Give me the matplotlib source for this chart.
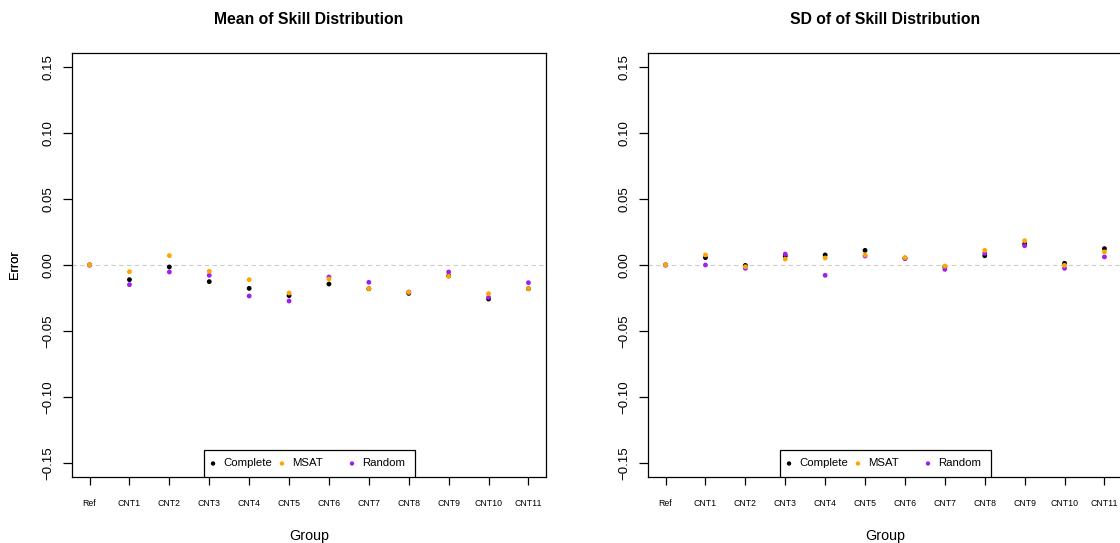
import matplotlib
matplotlib.use('Agg')
import matplotlib.pyplot as plt
from matplotlib.patches import Rectangle

plt.rcParams['font.family'] = ['Liberation Sans', 'DejaVu Sans']

groups = ["Ref", "CNT1", "CNT2", "CNT3", "CNT4", "CNT5", "CNT6",
          "CNT7", "CNT8", "CNT9", "CNT10", "CNT11"]
series_names = ["Complete", "MSAT", "Random"]
series_colors = {"Complete": "black", "MSAT": "#FFA500", "Random": "#A020F0"}

# mean of skill distribution errors
mean_complete = [0.0, -0.0111, -0.0015, -0.0126, -0.0177, -0.0232, -0.0144,
                 -0.0180, -0.0215, -0.0082, -0.0258, -0.0180]
mean_msat = [0.0, -0.0051, 0.0071, -0.0048, -0.0111, -0.0212, -0.0106,
             -0.0179, -0.0207, -0.0086, -0.0217, -0.0179]
mean_random = [0.0, -0.0149, -0.0053, -0.0078, -0.0235, -0.0273, -0.0091,
               -0.0131, -0.0205, -0.0053, -0.0245, -0.0134]

# sd of skill distribution errors
sd_complete = [0.0, 0.0056, -0.0003, 0.0068, 0.0076, 0.0111, 0.0052,
               -0.0013, 0.0070, 0.0160, 0.0013, 0.0124]
sd_msat = [0.0, 0.0076, -0.0013, 0.0045, 0.0053, 0.0076, 0.0056,
           -0.0008, 0.0111, 0.0184, -0.0003, 0.0099]
sd_random = [0.0, 0.0, -0.0025, 0.0083, -0.0078, 0.0068, 0.0048,
             -0.0033, 0.0088, 0.0146, -0.0025, 0.0061]

panels = [
    ("Mean of Skill Distribution", {"Complete": mean_complete, "MSAT": mean_msat, "Random": mean_random}),
    ("SD of of Skill Distribution", {"Complete": sd_complete, "MSAT": sd_msat, "Random": sd_random}),
]

W, H = 1120, 543
fig = plt.figure(figsize=(W / 100, H / 100), dpi=100)
fig.patch.set_facecolor('white')

ax_left_px = [72, 648]
box_w, box_top, box_bot = 474, 53, 477
yticks = [-0.15, -0.10, -0.05, 0.0, 0.05, 0.10, 0.15]
x = list(range(1, len(groups) + 1))

for (title, data), lpx in zip(panels, ax_left_px):
    ax = fig.add_axes([lpx / W, 1 - box_bot / H, box_w / W, (box_bot - box_top) / H])
    ax.set_xlim(0.56, 12.44)
    ax.set_ylim(-0.1606, 0.1606)

    ax.axhline(0, color='#cccccc', lw=0.8, dashes=(4, 3), zorder=1)

    # draw order: Complete, Random, MSAT (orange ends up on top)
    for name in ["Complete", "Random", "MSAT"]:
        ax.scatter(x, data[name], s=12, color=series_colors[name],
                   edgecolors='none', zorder=3)

    for sp in ax.spines.values():
        sp.set_linewidth(0.9)
        sp.set_color('black')

    ax.set_xticks(x)
    ax.set_xticklabels(groups, fontsize=6.3)
    ax.set_yticks(yticks)
    ax.set_yticklabels(['\u22120.15', '\u22120.10', '\u22120.05', '0.00', '0.05', '0.10', '0.15'],
                       fontsize=9.5, rotation=90, va='center')
    ax.tick_params(axis='x', length=6, width=0.9, pad=10)
    ax.tick_params(axis='y', length=6.5, width=0.9, pad=6)

    ax.text(0.5, 1 + (box_top - 19) / (box_bot - box_top), title, transform=ax.transAxes,
            ha='center', va='center', fontsize=11.3, fontweight='bold')
    ax.text((15 - lpx) / box_w, 0.5, "Error", transform=ax.transAxes,
            ha='center', va='center', rotation=90, fontsize=9.3)
    ax.text(0.5, (box_bot - 536) / (box_bot - box_top), "Group", transform=ax.transAxes,
            ha='center', va='center', fontsize=10.3)

    # legend box at bottom centre
    lg_h = 27 / (box_bot - box_top)
    ax.add_patch(Rectangle((0.2775, 0.0), 0.446, lg_h, transform=ax.transAxes,
                           facecolor='white', edgecolor='black', lw=0.9, zorder=4))
    for name, mx in zip(series_names, [0.2975, 0.443, 0.5907]):
        ax.scatter([mx], [lg_h / 2], s=10, color=series_colors[name], edgecolors='none',
                   transform=ax.transAxes, zorder=5, clip_on=False)
        ax.text(mx + 0.021, lg_h / 2, name, transform=ax.transAxes, ha='left',
                va='center', fontsize=8.2, zorder=5)

plt.savefig("out.png", dpi=100, facecolor='white')
plt.close()
